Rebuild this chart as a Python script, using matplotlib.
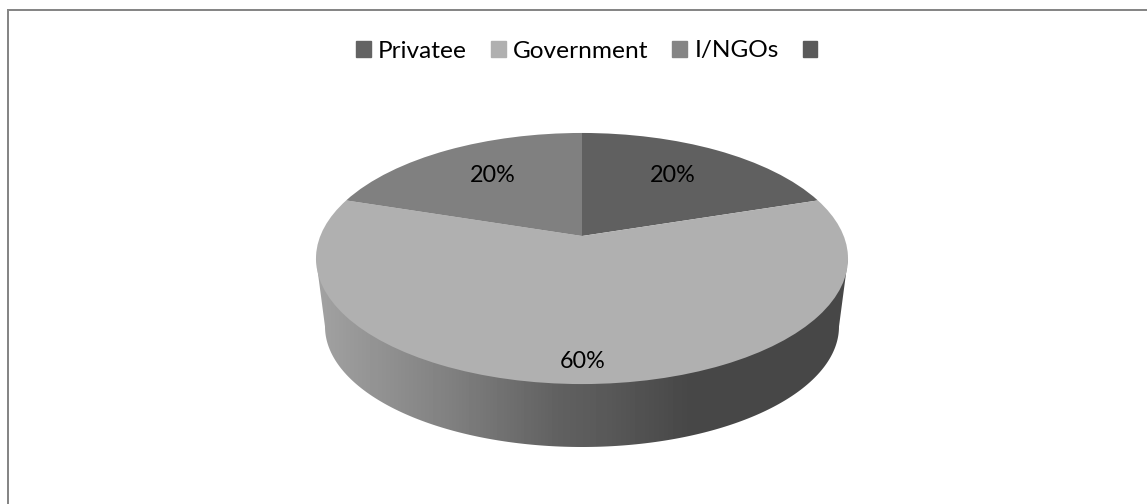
import numpy as np
from matplotlib import pyplot as plt
from matplotlib.patches import Patch, Polygon
from matplotlib.transforms import Transform

categories = ['Privatee', 'Government', 'I/NGOs', '']
shares = [20, 60, 20]
slice_colors = ['#606060', '#b0b0b0', '#808080']
legend_colors = ['#636363', '#b0b0b0', '#858585', '#5a5a5a']

plt.rcParams['font.family'] = ['Lato', 'DejaVu Sans']


# tilts the flat unit pie so it sits on the page like a 3D pie, output is in pixels
class Tilt(Transform):
    input_dims = 2
    output_dims = 2

    def transform_non_affine(self, values):
        values = np.asarray(values)
        w = 1 + 0.1793 * values[:, 1]
        return np.column_stack((582 + 261.7 * values[:, 0] / w,
                                (236 - 79.2 * values[:, 1]) / w))


fig = plt.figure(figsize=(11.47, 5.04), dpi=100)
ax = fig.add_axes([0, 0, 1, 1])

tilt = Tilt()
wedges, _ = ax.pie(shares, colors=slice_colors, startangle=90, counterclock=False, frame=False)
for w in wedges:
    w.set_transform(tilt + ax.transData)
    w.set_zorder(3)
    w.set_clip_on(False)

ax.set_aspect('auto')
ax.axis('off')

# side wall of the disc, a gradient clipped to the outline of the lower rim
a = np.linspace(np.pi, 0, 200)
low = np.column_stack((582 + 257 * np.cos(a), 326.5 + 120.5 * np.sin(a)))
outline = np.vstack(([[316, 258.5]], low, [[848, 258.5]]))

xs = np.arange(300, 870)
shade = np.interp(xs, [316, 450, 560, 600, 690, 848], [0xa2, 0x80, 0x60, 0x5a, 0x47, 0x47]) / 255
im = ax.imshow(shade[None, :], cmap='gray', vmin=0, vmax=1, extent=(300, 870, 460, 250),
               aspect='auto', zorder=2)
im.set_clip_path(Polygon(outline, transform=ax.transData))
ax.set_xlim(0, 1147)
ax.set_ylim(504, 0)

ax.text(673, 175, f'{shares[0]}%', ha='center', va='center', fontsize=16.8, color='black', zorder=4)
ax.text(583, 361, f'{shares[1]}%', ha='center', va='center', fontsize=16.8, color='black', zorder=4)
ax.text(493, 175, f'{shares[2]}%', ha='center', va='center', fontsize=16.8, color='black', zorder=4)

# only the top and left frame lines are in the picture
ax.plot([8, 8, 1147], [504, 10, 10], color='#868686', lw=1.44, clip_on=False, solid_joinstyle='miter')

handles = [Patch(color=c) for c in legend_colors]
ax.legend(handles, categories, ncol=4, frameon=False, fontsize=17.6, loc='center left',
          bbox_to_anchor=(356 / 1147, 1 - 51 / 504), handlelength=0.6, handleheight=0.6,
          handletextpad=0.3, columnspacing=0.98, borderpad=0, borderaxespad=0)

fig.savefig('out.png', dpi=100)
